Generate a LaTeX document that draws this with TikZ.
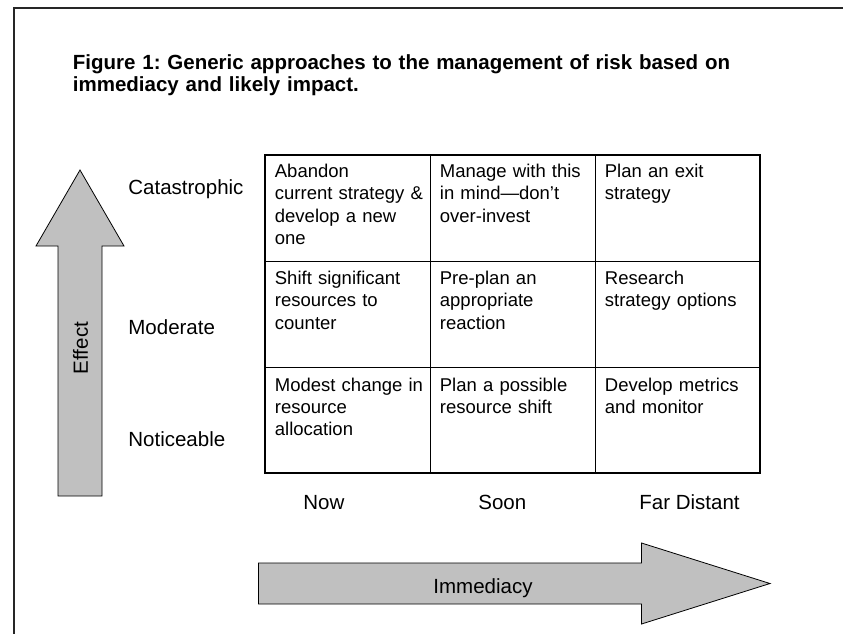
\documentclass[tikz,border=0pt]{standalone}
\usepackage{fontspec}
\setmainfont{Liberation Sans}
\usepackage{xcolor}
\usepackage{tikz}
\definecolor{arrowgray}{HTML}{C0C0C0}
\frenchspacing

\begin{document}
\begin{tikzpicture}[x=1pt, y=-1pt, line width=0.8pt,
   cell/.style={anchor=base west, inner sep=0pt, text width=156pt, align=left, font=\fontsize{18.5}{22.3}\selectfont},
   lbl/.style={anchor=base west, inner sep=0pt, font=\fontsize{20.5}{24}\selectfont},
   bigarrow/.style={fill=arrowgray, draw=black, line width=0.8pt}]
   \useasboundingbox (0,0) rectangle (843,633);
   \clip (0,0) rectangle (843,633);
   \draw [line width=2pt, black!85] (13.5,660) -- (13.5,7.5) -- (870,7.5);

   \node [anchor=base west, inner sep=0pt, text width=700pt, align=left, font=\bfseries\fontsize{20.5}{22.4}\selectfont] (title) at (72.5,69.3)
      {Figure 1: Generic approaches to the management of risk based on\\immediacy and likely impact.};

   % effect and immediacy arrows
   \draw [bigarrow] (58,496) -- (58,246) -- (36,246) -- (80,170) -- (124,246) -- (102,246) -- (102,496) -- cycle;
   \draw [bigarrow] (258.5,563) -- (641.5,563) -- (641.5,543) -- (770,583.5) -- (641.5,624) -- (641.5,604) -- (258.5,604) -- cycle;
   \node [rotate=90, inner sep=0pt, font=\fontsize{20.5}{24}\selectfont] (effect) at (80.5,348) {Effect};
   \node [lbl] (immed) at (433,593) {Immediacy};

   \node [lbl] (catas) at (128,194) {Catastrophic};
   \node [lbl] (moderate) at (128,334) {Moderate};
   \node [lbl] (notice) at (128,446.5) {Noticeable};

   \node [lbl] (now) at (303,509) {Now};
   \node [lbl] (soon) at (478,509) {Soon};
   \node [lbl] (far) at (639,509) {Far Distant};

   % the grid
   \draw [line width=1pt] (430.5,155) -- (430.5,473) (595.5,155) -- (595.5,473)
      (265,261) -- (760,261) (265,367) -- (760,367);
   \draw [line width=2pt] (265,155) rectangle (760,473);

   \node [cell] (abandon) at (274.5,177.5) {Abandon\\current strategy \&\\develop a new\\one};
   \node [cell] (manage) at (439.5,177.5) {Manage with this\\in mind—don’t\\over-invest};
   \node [cell] (exit) at (604.5,177.5) {Plan an exit\\strategy};
   \node [cell] (shift) at (274.5,284.5) {Shift significant\\resources to\\counter};
   \node [cell] (preplan) at (439.5,284.5) {Pre-plan an\\appropriate\\reaction};
   \node [cell] (research) at (604.5,284.5) {Research\\strategy options};
   \node [cell] (modest) at (274.5,391) {Modest change in\\resource\\allocation};
   \node [cell] (possible) at (439.5,391) {Plan a possible\\resource shift};
   \node [cell] (metrics) at (604.5,391) {Develop metrics\\and monitor};
\end{tikzpicture}
\end{document}
